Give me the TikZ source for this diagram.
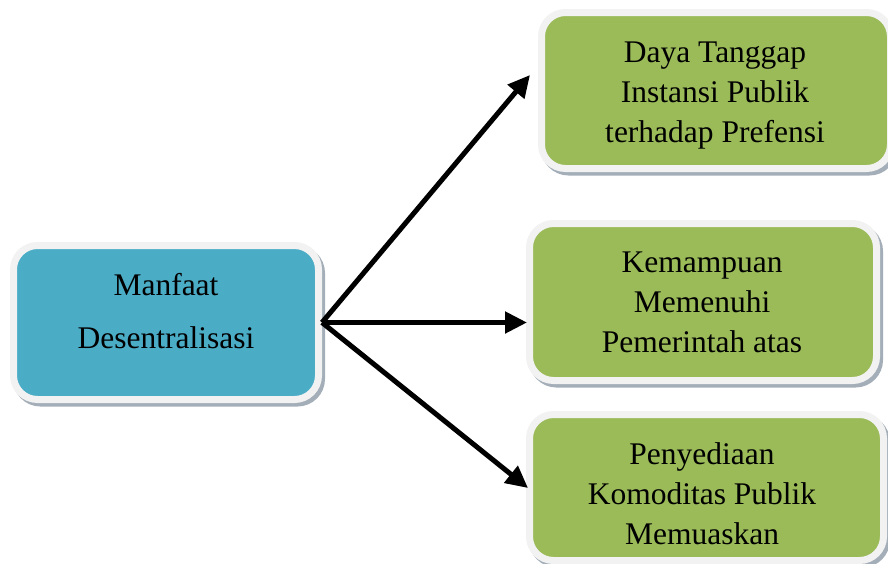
\documentclass[tikz,border=0pt]{standalone}
\usepackage{fontspec}
\setmainfont{Liberation Serif}
\usetikzlibrary{arrows.meta}
\definecolor{bluec}{HTML}{4BACC6}
\definecolor{greenc}{HTML}{9BBB59}
\definecolor{borderc}{HTML}{F2F2F2}
\definecolor{shadowc}{HTML}{A3AEB8}
\tikzset{
  box/.style={rounded corners=24pt, line width=7pt, draw=borderc, inner sep=0pt,
    preaction={draw=shadowc, line width=7pt, transform canvas={shift={(3pt,-3.5pt)}}}},
  bluebox/.style={box, fill=bluec},
  greenbox/.style={box, fill=greenc},
  lbl/.style={font=\fontsize{31.5}{40}\selectfont, align=center, inner sep=0pt},
  lbll/.style={font=\fontsize{31.5}{53}\selectfont, align=center, inner sep=0pt},
  arr/.style={line width=5pt, line join=miter, -{Triangle[length=22pt,width=21pt]}}
}
\begin{document}
\begin{tikzpicture}[x=1pt,y=-1pt]
\useasboundingbox (0,0) rectangle (888,563);
\node[bluebox, minimum width=305pt, minimum height=154pt] (left) at (166,322.5) {};
\node[greenbox, minimum width=349pt, minimum height=156pt] (top) at (716,90.5) {};
\node[greenbox, minimum width=347pt, minimum height=157pt] (mid) at (703,302) {};
\node[greenbox, minimum width=354pt, minimum height=146pt] (bot) at (706.5,487.5) {};
\node[lbll] (leftt) at (166,310.9) {Manfaat\\Desentralisasi};
\node[lbl] (topt) at (715,95.1) {Daya Tanggap\\Instansi Publik\\terhadap Prefensi};
\node[lbl] (midt) at (702,302.3) {Kemampuan\\Memenuhi\\Pemerintah atas};
\node[lbl] (bott) at (702,493.4) {Penyediaan\\Komoditas Publik\\Memuaskan};
\coordinate (tipA) at (530,75);
\coordinate (tipB) at (527,322.5);
\coordinate (tipC) at (528,488);
\draw[arr] (left.east) -- (tipA);
\draw[arr] (left.east) -- (tipB);
\draw[arr] (left.east) -- (tipC);
\end{tikzpicture}
\end{document}
